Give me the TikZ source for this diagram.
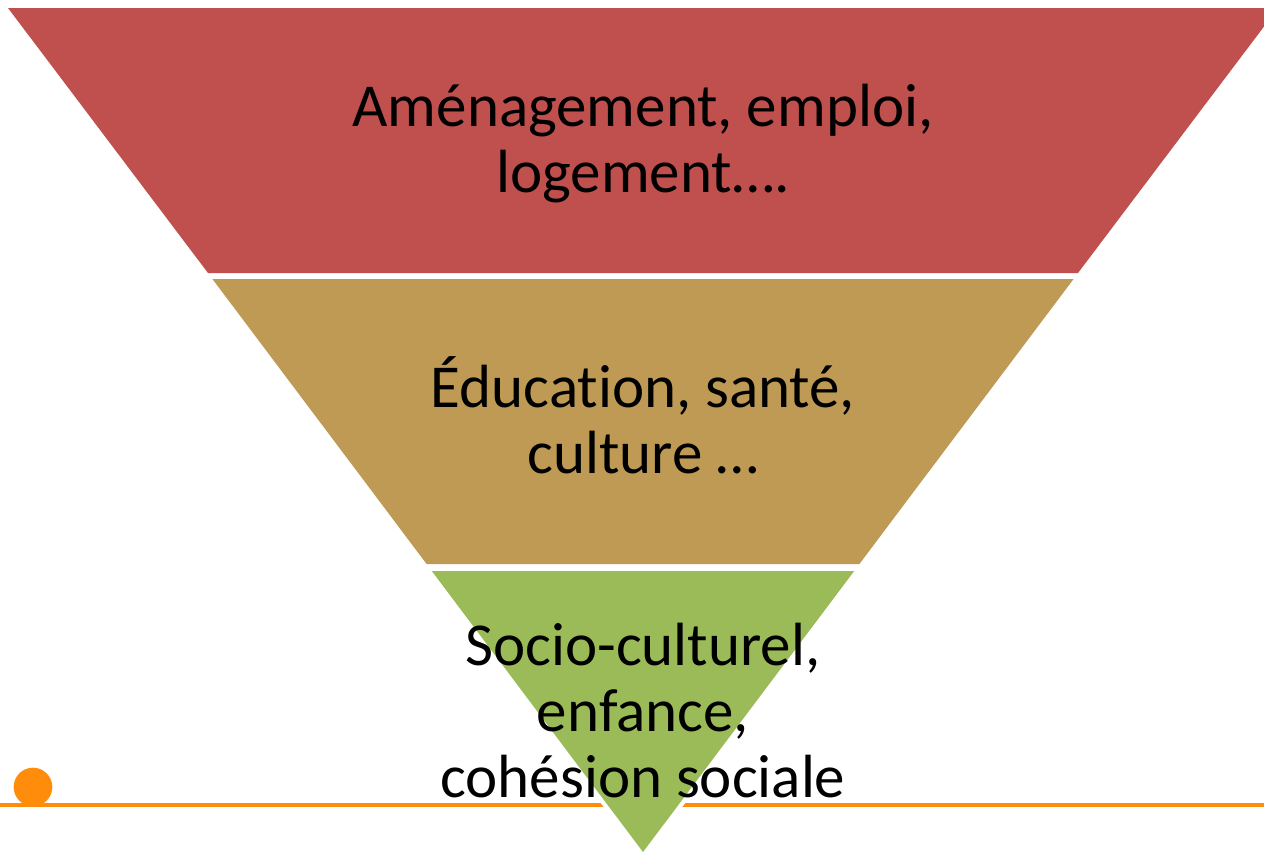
\documentclass[tikz,border=0pt]{standalone}
\usepackage{fontspec}
\setmainfont[Ligatures={NoCommon}]{Carlito}
\definecolor{bandred}{HTML}{C0504D}
\definecolor{bandtan}{HTML}{BE9A55}
\definecolor{bandgreen}{HTML}{9BBB59}
\definecolor{lineorange}{HTML}{FF8C0A}
\tikzset{
  bandtext/.style={align=center, inner sep=0pt, anchor=base, text=black,
    font=\fontsize{45.75}{49.5}\selectfont},
}
\begin{document}
\begin{tikzpicture}[x=0.75pt,y=-0.75pt]
\useasboundingbox (0,0) rectangle (1264,851);
% orange baseline and dot
\coordinate (lineL) at (0,805);
\coordinate (lineR) at (1264,805);
\draw[lineorange, line width=3.3pt] (lineL) -- (lineR);
\fill[lineorange] (33,787) circle (14.5pt);
% bands
\fill[bandred] (8,8) -- (1278,8) -- (1078,273) -- (208,273) -- cycle;
\fill[bandtan] (212.4,279) -- (1073.6,279) -- (859.4,564) -- (426.6,564) -- cycle;
\filldraw[bandgreen, draw=white, line width=6.5pt] (431.8,571) -- (854.2,571) -- (643,852) -- cycle;
\fill[bandgreen] (431.8,571) -- (854.2,571) -- (643,852) -- cycle;
% texts (anchor base = baseline of the last line)
\node[bandtext] (t1) at (643,192) {Aménagement, emploi,\\logement….};
\node[bandtext] (t2) at (643,473) {Éducation, santé,\\culture …};
\node[bandtext] (t3) at (643,797) {Socio-culturel,\\enfance,\\cohésion sociale};
\end{tikzpicture}
\end{document}
